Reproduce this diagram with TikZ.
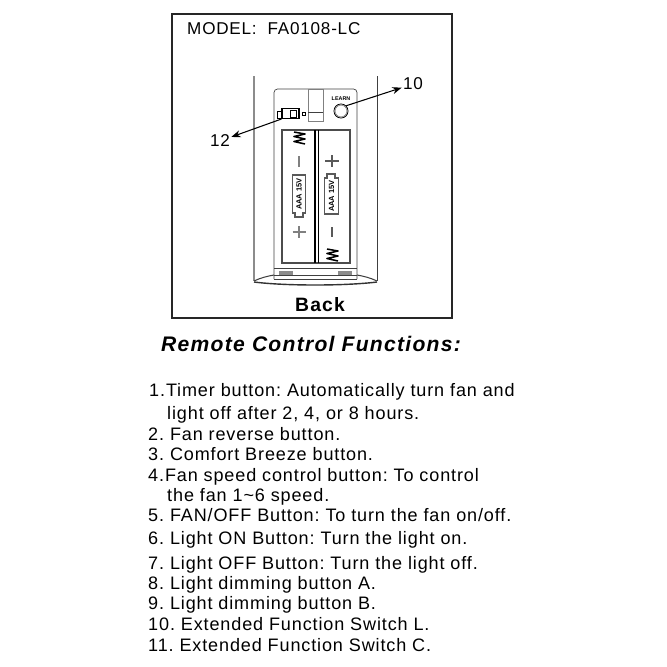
\documentclass[tikz,border=0pt]{standalone}
\usepackage{fontspec}
\setmainfont{Liberation Sans}
\newfontfamily\listfont[LetterSpace=4.8]{Liberation Sans}
\newfontfamily\modelfont[LetterSpace=4.5]{Liberation Sans}
\newfontfamily\headfont[LetterSpace=6]{Liberation Sans}
\usetikzlibrary{arrows.meta}
\frenchspacing
\tikzset{
  listline/.style={anchor=base west, inner sep=0pt, font=\listfont\fontsize{15.4}{17}\selectfont},
  callout/.style={inner sep=1pt, font=\modelfont\fontsize{14.6}{16}\selectfont},
  leader/.style={-{Stealth[length=8pt,width=6pt]}, line width=0.9pt},
  shell/.style={line width=0.6pt, draw=black!75},
  well/.style={line width=1.3pt, draw=black!70},
  cellline/.style={line width=0.9pt, draw=black!65},
  springline/.style={line width=1.3pt, line join=round},
  cellname/.style={inner sep=0pt, rotate=90, font=\bfseries\fontsize{6.4}{7}\selectfont}
}
\begin{document}
\begin{tikzpicture}[x=0.03cm, y=-0.03cm]
    \useasboundingbox (0, 0) rectangle (667, 667);
    % frame
    \draw [line width=1pt, black!85] (172, 14) rectangle (452, 318);
    \node [anchor=base west, inner sep=0pt, font=\modelfont\fontsize{14.6}{16}\selectfont] (model) at (187, 34) {MODEL:\ \ FA0108-LC};
    \node [anchor=base, inner sep=0pt, font=\headfont\bfseries\fontsize{16.5}{18}\selectfont] (back) at (320, 311) {Back};
    % remote body
    \draw [shell, black!45, line width=0.9pt] (254, 76) -- (254, 281);
    \draw [shell] (377, 76) -- (377, 281);
    \draw [shell, line width=0.9pt] (254, 281) .. controls (260, 278) and (268, 276) .. (274, 275);
    \draw [shell, line width=0.9pt] (377, 281) .. controls (371, 278) and (363, 276) .. (357, 275);
    \draw [line width=1.2pt, black!80] (254, 282) .. controls (285, 286) and (345, 286) .. (377, 282);
    % battery cover
    \draw [shell, rounded corners=3pt] (274, 279) -- (274, 89) -- (357, 89) -- (357, 279);
    \draw [shell] (274, 268) -- (357, 268);
    \draw [shell] (274, 275) -- (357, 275);
    \draw [shell] (274, 279) -- (357, 279);
    \fill [black!45] (279, 271) rectangle (293, 275);
    \fill [black!45] (338, 271) rectangle (352, 275);
    % slider
    \draw [shell, black!50] (308, 89) rectangle (323, 121);
    \draw [shell] (308, 112) -- (323, 112);
    \node [inner sep=0pt, font=\bfseries\fontsize{4.6}{5}\selectfont] (learn) at (341, 99) {LEARN};
    \node [draw, circle, minimum size=12pt, inner sep=0pt, line width=0.7pt] (learnbtn) at (341, 111) {};
    \draw [line width=0.4pt, black!60] (learnbtn) circle (5pt);
    % switch
    \node [draw, minimum width=14.5pt, minimum height=8.5pt, inner sep=0pt, line width=0.9pt] (switch) at (290.5, 113.5) {};
    \draw [line width=0.6pt] (290, 110) rectangle (296, 117);
    \draw [line width=0.7pt] (277.5, 111) rectangle (282, 118);
    \draw [line width=0.6pt] (302, 112) rectangle (305, 115);
    % wells
    \draw [well] (282, 263) -- (282, 130) -- (350, 130) -- (350, 263) -- cycle;
    \draw [line width=1pt] (315, 130) -- (315, 263);
    \draw [line width=0.5pt] (318, 130) -- (318, 263);
    % left cell
    \draw [springline] (294, 132) -- (305, 134) -- (294, 136.5) -- (305, 139) -- (294, 141.5) -- (305, 144);
    \draw [cellline, black!50, line width=1.2pt] (299, 156) -- (299, 167);
    \draw [cellline] (292.5, 175) -- (305.5, 175) -- (305.5, 213) -- (303, 213) -- (303, 217) -- (295, 217) -- (295, 213) -- (292.5, 213) -- cycle;
    \node [cellname] (cella) at (299, 194) {AAA 15V};
    \draw [cellline, black!50] (292.5, 232) -- (305.5, 232) (299, 226) -- (299, 238);
    % right cell
    \draw [cellline] (325, 161) -- (339, 161) (332, 155) -- (332, 167);
    \draw [cellline] (324.5, 178) -- (327, 178) -- (327, 174) -- (335, 174) -- (335, 178) -- (338.5, 178) -- (338.5, 214) -- (324.5, 214) -- cycle;
    \node [cellname] (cellb) at (331.5, 196) {AAA 15V};
    \draw [cellline, line width=1.3pt] (332, 227) -- (332, 237);
    \draw [springline] (327, 249) -- (338, 251) -- (327, 253.5) -- (338, 256) -- (327, 258.5) -- (338, 261);
    % callouts
    \node [callout] (ten) at (413, 84) {10};
    \node [callout] (twelve) at (220, 141) {12};
    \draw [leader] (learnbtn.north east) -- (ten);
    \draw [leader] (switch.south west) -- (twelve);
    % functions
    \node [anchor=base west, inner sep=0pt, font=\headfont\bfseries\itshape\fontsize{18}{20}\selectfont] (title) at (161, 351) {Remote Control Functions:};
    \node [listline] (f1) at (149, 396) {1.Timer button: Automatically turn fan and};
    \node [listline] (f1b) at (167, 419) {light off after 2, 4, or 8 hours.};
    \node [listline] (f2) at (148, 440) {2. Fan reverse button.};
    \node [listline] (f3) at (148, 460) {3. Comfort Breeze button.};
    \node [listline] (f4) at (148, 481) {4.Fan speed control button: To control};
    \node [listline] (f4b) at (167, 501) {the fan 1\textasciitilde 6 speed.};
    \node [listline] (f5) at (148, 521) {5. FAN/OFF Button: To turn the fan on/off.};
    \node [listline] (f6) at (148, 544) {6. Light ON Button: Turn the light on.};
    \node [listline] (f7) at (148, 569) {7. Light OFF Button: Turn the light off.};
    \node [listline] (f8) at (148, 589) {8. Light dimming button A.};
    \node [listline] (f9) at (148, 609) {9. Light dimming button B.};
    \node [listline] (f10) at (148, 630) {10. Extended Function Switch L.};
    \node [listline] (f11) at (148, 651) {11. Extended Function Switch C.};
  \end{tikzpicture}
\end{document}
